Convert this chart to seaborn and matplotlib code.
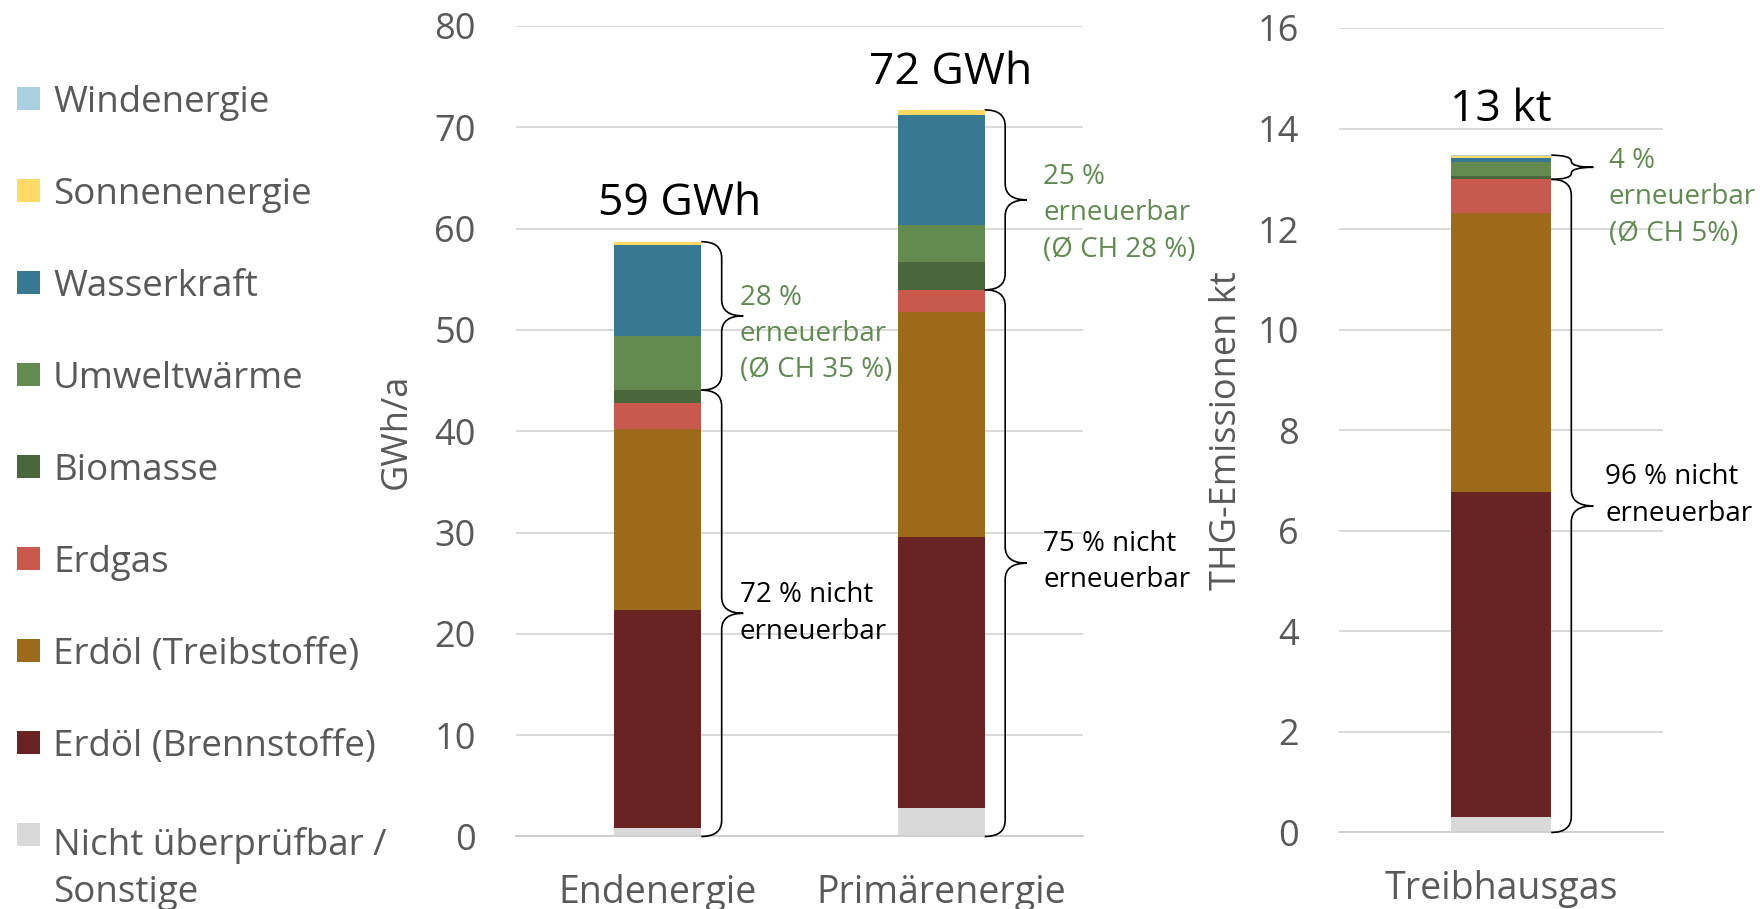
import numpy as np
import pandas as pd
import matplotlib
matplotlib.use("Agg")
import matplotlib.pyplot as plt
import seaborn as sns
from matplotlib.path import Path
from matplotlib.patches import PathPatch, Rectangle

# ---------------- data ----------------
# stack order, bottom -> top
sources = ["Nicht überprüfbar /\nSonstige", "Erdöl (Brennstoffe)", "Erdöl (Treibstoffe)",
           "Erdgas", "Biomasse", "Umweltwärme", "Wasserkraft", "Sonnenenergie", "Windenergie"]
colors = ["#D9D9D9", "#6A2323", "#9C6A1B", "#C9594C", "#4A663B", "#638B50",
          "#387893", "#FFD966", "#A9D0DE"]

energy_cats = ["Endenergie", "Primärenergie"]
end_gwh = [0.86, 21.5, 17.9, 2.5, 1.3, 5.3, 9.0, 0.35, 0.0]
prim_gwh = [2.86, 26.7, 22.2, 2.2, 2.7, 3.7, 10.9, 0.46, 0.0]

ghg_cats = ["Treibhausgas"]
thg_kt = [0.31, 6.46, 5.55, 0.67, 0.07, 0.27, 0.09, 0.04, 0.01]

energy_totals = ["59 GWh", "72 GWh"]
ghg_totals = ["13 kt"]
energy_renew_txt = ["28 %\nerneuerbar\n(Ø CH 35 %)", "25 %\nerneuerbar\n(Ø CH 28 %)"]
energy_nonrenew_txt = ["72 % nicht\nerneuerbar", "75 % nicht\nerneuerbar"]
ghg_renew_txt = ["4 %\nerneuerbar\n(Ø CH 5%)"]
ghg_nonrenew_txt = ["96 % nicht\nerneuerbar"]
# number of stacked layers below the renewable brace
energy_split = [5, 4]
ghg_split = [4]

# ---------------- style ----------------
sns.set_style("white")
plt.rcParams["font.family"] = ["Open Sans", "DejaVu Sans"]
GRAY = "#595959"
GREEN = "#5F8B4E"
GRID = "#D9D9D9"
ANN = 20
ANN_LS = 1.4

fig = plt.figure(figsize=(17.6, 9.09), dpi=100)
ax1 = fig.add_axes([0.29318, 0.07976, 0.32216, 0.89164])
ax2 = fig.add_axes([0.76080, 0.0842, 0.18409, 0.88500])


def stacked(ax, cats, series, width):
    mat = np.array(series, dtype=float)  # cats x layers
    cum = np.cumsum(mat, axis=1)
    for i in range(len(sources) - 1, -1, -1):
        df = pd.DataFrame({"cat": cats, "val": cum[:, i]})
        sns.barplot(data=df, x="cat", y="val", color=colors[i], saturation=1,
                    width=width, errorbar=None, ax=ax, linewidth=0)
    return cum


def brace(ax, x0, y0, y1, dx_body, dx_tip, r):
    ym = (y0 + y1) / 2
    r = min(r, (y1 - y0) / 4)
    xb = x0 + dx_body
    xt = x0 + dx_tip
    verts = [(x0, y1), (xb, y1), (xb, y1 - r),
             (xb, ym + r), (xb, ym), (xt, ym),
             (xb, ym), (xb, ym - r),
             (xb, y0 + r), (xb, y0), (x0, y0)]
    codes = [Path.MOVETO, Path.CURVE3, Path.CURVE3,
             Path.LINETO, Path.CURVE3, Path.CURVE3,
             Path.CURVE3, Path.CURVE3,
             Path.LINETO, Path.CURVE3, Path.CURVE3]
    ax.add_patch(PathPatch(Path(verts, codes), fill=False, edgecolor="black",
                           lw=1.2, clip_on=False, zorder=5))


def style_axes(ax, ymax, ystep, ncat, ylabel, label_x):
    ax.set_ylim(0, ymax)
    ax.set_yticks(np.arange(0, ymax + 0.1, ystep))
    ax.set_xlim(-0.5, ncat - 0.5)
    ax.yaxis.grid(True, color=GRID, lw=1.4)
    ax.xaxis.grid(False)
    ax.set_axisbelow(True)
    for s in ["left", "right", "top"]:
        ax.spines[s].set_visible(False)
    ax.spines["bottom"].set_color("#CFCFCF")
    ax.spines["bottom"].set_linewidth(1.4)
    ax.tick_params(axis="y", length=0, pad=29, labelsize=26, labelcolor=GRAY)
    ax.tick_params(axis="x", which="major", length=0, pad=27, labelsize=27, labelcolor=GRAY)
    ax.set_xticks(np.arange(-0.5, ncat, 1.0), minor=True)
    ax.tick_params(axis="x", which="minor", length=9, width=1.4, color="#CFCFCF", direction="out")
    ax.set_xlabel("")
    ax.set_ylabel(ylabel, fontsize=26, color=GRAY)
    ax.yaxis.set_label_coords(label_x, 0.5)


# ---------- left chart ----------
bw1 = 0.307
cum1 = stacked(ax1, energy_cats, [end_gwh, prim_gwh], bw1)
style_axes(ax1, 80, 10, 2, "GWh/a", -0.178)

txt_x1 = [0.29, 1.36]
renew_y1 = [49.6, 61.5]
nonrenew_y1 = [22.0, 27.1]
title_dx1 = [16, 7]
for j in range(2):
    total = cum1[j, -1]
    split = cum1[j, energy_split[j] - 1]
    x0 = j + bw1 / 2
    brace(ax1, x0, split, total, 0.072, 0.148, 1.6)
    brace(ax1, x0, 0, split, 0.072, 0.148, 1.6)
    ax1.text(txt_x1[j], renew_y1[j], energy_renew_txt[j], color=GREEN, fontsize=ANN,
             ha="left", va="center", linespacing=ANN_LS, clip_on=False)
    ax1.text(txt_x1[j], nonrenew_y1[j], energy_nonrenew_txt[j], color="black", fontsize=ANN,
             ha="left", va="center", linespacing=ANN_LS, clip_on=False)
    ax1.annotate(energy_totals[j], (j, total), xytext=(title_dx1[j], 27),
                 textcoords="offset points", ha="center", va="center",
                 fontsize=32, color="black")

# ---------- right chart ----------
bw2 = 0.31
cum2 = stacked(ax2, ghg_cats, [thg_kt], bw2)
style_axes(ax2, 16, 2, 1, "THG-Emissionen kt", -0.29)

total = cum2[0, -1]
split = cum2[0, ghg_split[0] - 1]
x0 = bw2 / 2
brace(ax2, x0, split, total, 0.062, 0.13, 0.32)
brace(ax2, x0, 0, split, 0.062, 0.13, 0.32)
ax2.text(0.332, 12.63, ghg_renew_txt[0], color=GREEN, fontsize=ANN,
         ha="left", va="center", linespacing=ANN_LS, clip_on=False)
ax2.text(0.322, 6.70, ghg_nonrenew_txt[0], color="black", fontsize=ANN,
         ha="left", va="center", linespacing=ANN_LS, clip_on=False)
ax2.annotate(ghg_totals[0], (0, total), xytext=(0, 33), textcoords="offset points",
             ha="center", va="center", fontsize=32, color="black")

# ---------- legend (top -> bottom) ----------
W, H = 1760, 909
LEG_LINE = 54  # px between lines of a wrapped label
for k, i in enumerate(range(len(sources) - 1, -1, -1)):
    yc = 98.8 + 92 * k
    fig.patches.append(Rectangle((17 / W, 1 - (yc + 11.5) / H), 23 / W, 23 / H,
                                 transform=fig.transFigure, color=colors[i], lw=0))
    nlines = sources[i].count("\n") + 1
    yb = yc + 13.5 + LEG_LINE * (nlines - 1)
    fig.text(53 / W, 1 - yb / H, sources[i], fontsize=26.5, color=GRAY,
             ha="left", va="baseline", linespacing=1.41)

fig.savefig("out.png", dpi=100, facecolor="white")
